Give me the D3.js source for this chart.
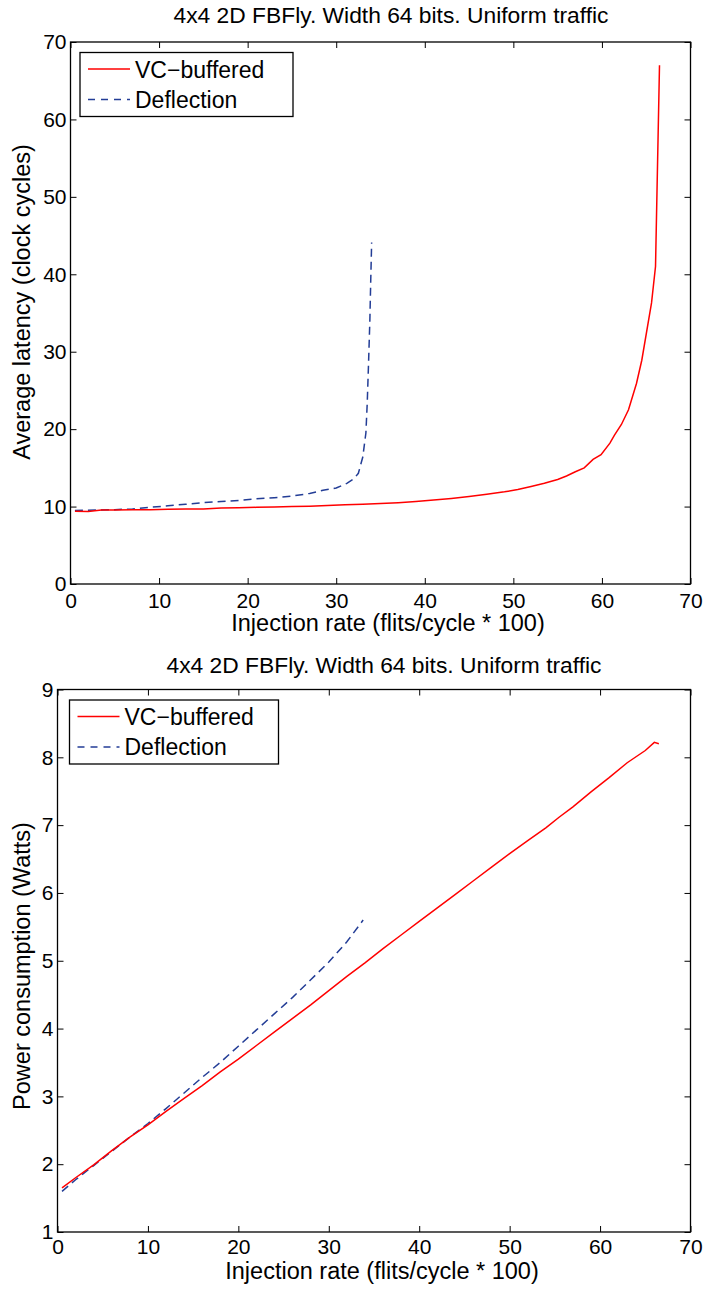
<!DOCTYPE html>
<html>
<head>
<meta charset="utf-8">
<script src="https://cdn.jsdelivr.net/npm/d3@7"></script>
<style>
  body { margin: 0; background: #fff; }
  text { font-family: "Liberation Sans", Arial, Helvetica, sans-serif; fill: #000; }
</style>
</head>
<body>
<div id="chart"></div>
<script>
// ---- data ----
const titleText = "4x4 2D FBFly. Width 64 bits. Uniform traffic";
const xLabel = "Injection rate (flits/cycle * 100)";
const seriesNames = ["VC\u2212buffered", "Deflection"];

const xTicks = [0, 10, 20, 30, 40, 50, 60, 70];
const latencyTicks = [0, 10, 20, 30, 40, 50, 60, 70];
const powerTicks = [1, 2, 3, 4, 5, 6, 7, 8, 9];

// latency, VC-buffered
const latVcX = [0.5, 2, 3.5, 5, 7, 9, 11, 13, 15, 17, 19, 21, 23, 25, 27, 29, 31, 33, 35, 37, 39, 41, 43, 45, 47, 49, 50.5, 52, 53.5, 55, 56, 57, 58, 59, 59.9, 60.9, 61.4, 62.2, 63, 63.9, 64.5, 65.6, 66.05, 66.5];
const latVcY = [9.4, 9.35, 9.55, 9.55, 9.6, 9.6, 9.65, 9.7, 9.7, 9.8, 9.85, 9.9, 9.95, 10.0, 10.05, 10.15, 10.25, 10.3, 10.4, 10.5, 10.65, 10.85, 11.05, 11.3, 11.6, 11.9, 12.2, 12.6, 13.0, 13.5, 13.95, 14.5, 15.0, 16.1, 16.7, 18.2, 19.2, 20.6, 22.5, 25.9, 28.9, 36.3, 41.0, 67.0];
// latency, Deflection
const latDefX = [0.5, 3, 5, 7, 9, 11, 13, 15, 17, 19, 21, 23, 25, 27, 28.5, 30, 31.2, 32, 32.5, 33, 33.35, 33.5, 33.65, 33.8, 33.9, 34.0];
const latDefY = [9.5, 9.55, 9.6, 9.7, 9.9, 10.1, 10.3, 10.5, 10.65, 10.8, 11.0, 11.15, 11.35, 11.7, 12.1, 12.4, 13.0, 13.6, 14.3, 16.4, 19.5, 23.3, 28.5, 34.1, 39.3, 44.1];

// power, VC-buffered
const powVcX = [0.5, 2, 4, 6, 8, 10, 12, 14, 16, 18, 20, 22, 24, 26, 28, 30, 32, 34, 36, 38, 40, 42, 44, 46, 48, 50, 52, 54, 55.5, 57, 59, 61, 63, 65, 66, 66.5];
const powVcY = [1.65, 1.8, 1.99, 2.2, 2.4, 2.58, 2.78, 2.97, 3.16, 3.36, 3.55, 3.75, 3.95, 4.15, 4.35, 4.56, 4.77, 4.97, 5.18, 5.38, 5.58, 5.78, 5.98, 6.18, 6.38, 6.58, 6.77, 6.96, 7.12, 7.27, 7.49, 7.7, 7.92, 8.1, 8.22, 8.2];
// power, Deflection
const powDefX = [0.5, 2, 4, 6, 8, 10, 12, 14, 16, 18, 20, 22, 24, 26, 28, 30, 32, 33.8];
const powDefY = [1.6, 1.77, 1.98, 2.19, 2.4, 2.6, 2.82, 3.05, 3.28, 3.5, 3.74, 3.98, 4.22, 4.46, 4.72, 4.98, 5.28, 5.6];

const W = 707, H = 1289;
const svg = d3.select("#chart").append("svg")
  .attr("width", W)
  .attr("height", H);

function toPoints(xs, ys) {
  return xs.map((x, i) => ({ x: x, y: ys[i] }));
}

function drawPanel(p) {
  const x = d3.scaleLinear().domain([0, 70]).range([p.left, p.right]);
  const y = d3.scaleLinear().domain(p.yDomain).range([p.bottom, p.top]);
  const g = svg.append("g");

  // title and axis labels
  g.append("text")
    .attr("x", p.titleX).attr("y", p.titleY)
    .attr("text-anchor", "middle")
    .style("font-size", "22.8px")
    .text(titleText);

  g.append("text")
    .attr("x", p.xLabelX).attr("y", p.xLabelY)
    .attr("text-anchor", "middle")
    .style("font-size", "23.5px")
    .text(xLabel);

  g.append("text")
    .attr("transform", "translate(" + p.yLabelX + "," + p.yLabelY + ") rotate(-90)")
    .attr("text-anchor", "middle")
    .style("font-size", "23.5px")
    .text(p.yLabel);

  // axes, MATLAB style: ticks inside on all four sides
  const tick = 6;
  const axB = d3.axisBottom(x).tickValues(xTicks).tickSizeInner(-tick).tickSizeOuter(0).tickPadding(p.xPad);
  const axT = d3.axisTop(x).tickValues(xTicks).tickSizeInner(-tick).tickSizeOuter(0).tickFormat("");
  const axL = d3.axisLeft(y).tickValues(p.yTicks).tickSizeInner(-tick).tickSizeOuter(0).tickPadding(10);
  const axR = d3.axisRight(y).tickValues(p.yTicks).tickSizeInner(-tick).tickSizeOuter(0).tickFormat("");

  const gb = g.append("g").attr("transform", "translate(0," + p.bottom + ")").call(axB);
  g.append("g").attr("transform", "translate(0," + p.top + ")").call(axT);
  const gl = g.append("g").attr("transform", "translate(" + p.left + ",0)").call(axL);
  g.append("g").attr("transform", "translate(" + p.right + ",0)").call(axR);

  g.selectAll(".domain").remove();
  g.selectAll(".tick line").attr("stroke", "#000").attr("stroke-width", 1);
  gb.selectAll(".tick text").style("font-size", "21px").attr("font-family", null);
  gl.selectAll(".tick text").style("font-size", "21px").attr("font-family", null).attr("x", -4);

  // series
  const line = d3.line().x(d => x(d.x)).y(d => y(d.y));
  g.append("path")
    .datum(toPoints(p.defX, p.defY))
    .attr("d", line)
    .attr("fill", "none")
    .attr("stroke", "#233d96")
    .attr("stroke-width", 1.5)
    .attr("stroke-dasharray", "8,5");
  g.append("path")
    .datum(toPoints(p.vcX, p.vcY))
    .attr("d", line)
    .attr("fill", "none")
    .attr("stroke", "#ff0000")
    .attr("stroke-width", 1.5);

  // box
  g.append("rect")
    .attr("x", p.left).attr("y", p.top)
    .attr("width", p.right - p.left).attr("height", p.bottom - p.top)
    .attr("fill", "none").attr("stroke", "#000").attr("stroke-width", 1.3);

  // legend
  const lg = g.append("g").attr("transform", "translate(" + p.legX + "," + p.legY + ")");
  lg.append("rect")
    .attr("x", 0).attr("y", 0)
    .attr("width", p.legW).attr("height", 64)
    .attr("fill", "#fff").attr("stroke", "#000").attr("stroke-width", 1.3);
  lg.append("line")
    .attr("x1", 8).attr("x2", 50).attr("y1", 16.5).attr("y2", 16.5)
    .attr("stroke", "#ff0000").attr("stroke-width", 1.5);
  lg.append("line")
    .attr("x1", 8).attr("x2", 50).attr("y1", 47).attr("y2", 47)
    .attr("stroke", "#233d96").attr("stroke-width", 1.5)
    .attr("stroke-dasharray", "7,6");
  lg.selectAll("text.leg")
    .data(seriesNames)
    .enter()
    .append("text")
    .attr("class", "leg")
    .attr("x", 55)
    .attr("y", (d, i) => 25 + i * 30)
    .style("font-size", "23px")
    .text(d => d);
}

drawPanel({
  left: 70.5, right: 690.5, top: 42, bottom: 584,
  yDomain: [0, 70], yTicks: latencyTicks,
  yLabel: "Average latency (clock cycles)",
  titleX: 391, titleY: 23,
  xLabelX: 388, xLabelY: 631, xPad: 9,
  yLabelX: 30, yLabelY: 302,
  legX: 80, legY: 52.5, legW: 213,
  vcX: latVcX, vcY: latVcY, defX: latDefX, defY: latDefY
});

drawPanel({
  left: 57.5, right: 690.5, top: 689.5, bottom: 1232,
  yDomain: [1, 9], yTicks: powerTicks,
  yLabel: "Power consumption (Watts)",
  titleX: 384, titleY: 673,
  xLabelX: 382, xLabelY: 1279, xPad: 7,
  yLabelX: 30, yLabelY: 966,
  legX: 69.5, legY: 700, legW: 209,
  vcX: powVcX, vcY: powVcY, defX: powDefX, defY: powDefY
});
</script>
</body>
</html>
